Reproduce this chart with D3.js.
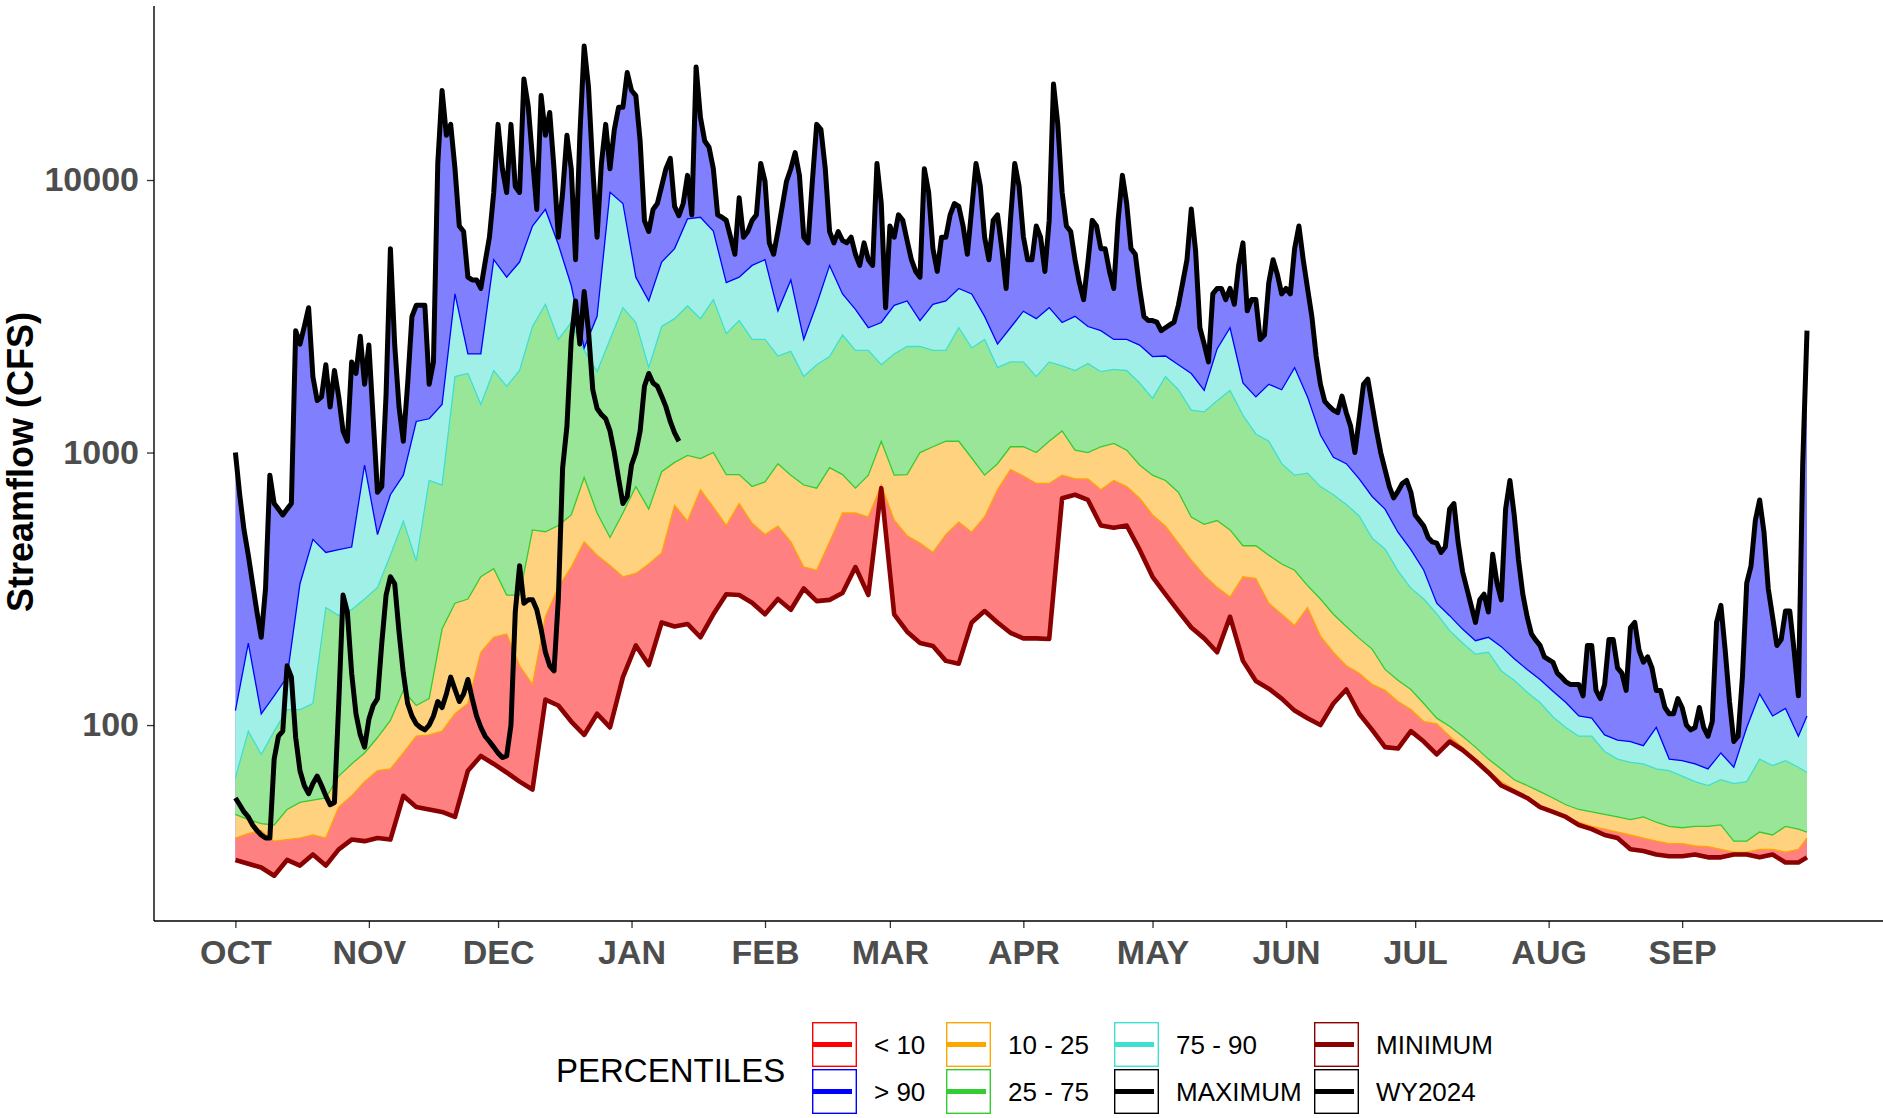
<!DOCTYPE html>
<meta charset="utf-8">
<script src="https://d3js.org/d3.v7.min.js"></script>
<style>
  body { margin: 0; background: #fff; }
  text { font-family: "Liberation Sans", Arial, sans-serif; }
</style>
<div id="chart"></div>
<script>

// day of water year (0 = Oct 1), every third day plus Sep 30
var days = d3.range(0, 364, 3).concat([365]);

// percentile flows (CFS) on the days above
var p90 = [113,200,110,128,150,330,480,430,440,450,900,500,700,826,1300,1330,1500,3820,2300,2300,
  5100,4400,5000,6780,7800,5800,4100,2420,3160,9020,8200,4400,3600,5000,5600,7200,7300,6500,4200,4400,
  4860,5100,3310,4300,2600,3500,4860,3820,3350,2870,3000,3470,3600,3050,3500,3600,4000,3820,3160,2500,
  2870,3300,3100,3400,3000,3160,2900,2800,2600,2600,2480,2250,2260,2100,1950,1690,2400,2870,1800,1600,
  1780,1700,2050,1600,1160,960,910,800,690,620,510,440,370,280,252,225,204,210,194,175,
  160,147,133,121,108,106,92,88,87,84,98,75,74,72,69,79,70,98,130,108,
  115,91,108];
var p75 = [64,95,78,95,114,114,120,270,252,265,290,320,420,560,400,790,760,1900,1950,1500,
  2000,1750,2000,2900,3500,2600,3000,2370,1980,2600,3400,3000,2050,2900,3100,3450,3100,3640,2730,3050,
  2600,2600,2260,2350,1900,2100,2250,2700,2370,2370,2100,2300,2450,2450,2370,2370,2870,2420,2600,2050,
  2150,2150,1900,2150,2080,2000,2120,1980,2020,2000,1800,1580,1900,1700,1430,1410,1550,1690,1370,1170,
  1100,910,826,840,750,700,645,585,485,443,368,318,290,256,222,200,182,185,158,146,
  132,121,107,98,91,91,80,75,73,72,69,68,65,62,60,63,61,62,75,71,
  74,70,67];
var p25 = [47,45,43.5,43,49,52,53,54,65,72,79,90,104,134,118,125,225,280,290,350,
  375,300,300,520,512,540,590,810,600,488,600,750,620,850,920,976,950,1000,830,830,
  750,780,910,826,760,740,880,830,740,826,1100,826,830,1000,1050,1100,1100,955,826,910,
  1050,1050,1000,1100,1200,1020,1000,1050,1080,1020,900,826,790,715,580,545,563,520,455,455,
  420,390,370,325,290,255,230,208,190,160,146,135,120,106,99,91,83,75,69,63,
  60,57,54,51,49,48,47,46,45,46,44,42.5,42,42.5,42.5,43,37.5,37.5,40.5,39.5,
  42.5,41.5,40.5];
var p10 = [38.5,40,41,37.5,38,38.5,39.5,38.5,50,55,62,68,69,79,91,92,95,110,120,185,
  210,216,165,141,250,320,380,470,420,385,350,360,390,428,640,560,730,630,540,650,
  550,500,537,470,380,370,470,600,600,580,760,565,495,465,430,500,555,510,580,730,
  866,820,770,770,826,800,800,730,790,750,680,590,537,465,403,355,320,295,350,345,
  280,255,232,270,212,185,165,155,141,134,122,114,103,101,91,83,75,68,62,58,
  54,50,48,46,44,42.5,41.5,40.5,39.5,38.5,37.5,36.7,36.7,36,35.8,35,34.2,34.2,35,35,
  34.2,35,38.5];
var minFlow = [32,31,30,28,32,30.5,33.5,30.5,35,38,37.5,38.5,38,55,50,49,48,46,68,77,
  72,67,62,58,124,118,103,92,110,98,150,196,166,238,230,235,210,255,302,300,
  281,255,290,265,317,285,288,305,380,300,740,255,220,200,195,172,168,238,262,238,
  218,208,208,207,680,700,670,540,530,540,440,350,302,262,228,208,185,250,172,145,
  136,125,113,106,100,120,135,110,96,83,82,95,87,78,87,81,74,67,60,57,
  54,50,48,46,43,41.5,39.5,38.5,35,34.5,33.5,33,33,33.5,32.7,32.7,33.5,33.5,32.7,33.5,
  31.3,31.3,32.7];

// daily maximum of record (CFS), Oct 1 .. Sep 30
var maxFlow = [1000,700,520,420,330,260,210,317,826,650,620,590,620,650,2800,2500,2900,3400,1900,1550,
  1600,2100,1470,2000,1600,1200,1100,2150,1950,2670,1780,2480,1330,715,750,1640,5600,2480,1470,1100,
  1780,3150,3470,3470,3470,1780,2150,11500,21300,14600,16000,11000,6780,6470,4400,4300,4300,4000,5000,6170,
  9020,16000,11000,9000,16000,9470,9000,23500,18700,12000,7800,20400,14600,17700,11000,6170,9000,14600,11000,5100,
  14600,31000,22000,11000,6170,11500,16000,11000,15300,18500,18500,24800,21300,20400,13900,7100,6470,7800,8200,9500,
  11000,12000,8000,7400,8200,10400,7450,26000,17000,13900,13200,11000,7450,7300,7110,6170,5340,8600,6170,6470,
  7110,7450,11500,9900,5880,5340,6470,8000,9900,11000,12600,10400,6170,5880,9900,16000,15300,11000,6470,5880,
  6470,6000,5880,6170,5340,4860,5880,5100,4860,11500,8200,3400,6780,6170,7450,7110,6000,5100,4620,4400,
  11000,9020,5600,4620,6170,6170,7450,8200,8000,6780,5340,7820,11500,9500,6170,5100,7110,7450,5600,4000,
  7110,11500,9500,6200,5100,5100,6780,6170,4620,7110,22500,16000,9020,6780,6470,5100,4200,3640,5000,7110,
  6780,5600,5600,4620,4000,7110,10400,8200,5600,5340,4000,3160,3050,3050,3010,2800,2870,2940,3010,3470,
  4200,5100,7820,5500,2870,2500,2150,3820,4000,4000,3640,4000,3500,4860,5880,3310,3640,3640,2600,2700,
  4200,5100,4500,3820,4000,3820,5600,6780,5100,4000,3160,2260,1780,1540,1480,1430,1400,1610,1400,1250,
  1000,1330,1780,1860,1500,1210,1000,866,750,682,720,770,790,715,590,563,537,488,470,465,
  430,450,620,650,465,366,317,275,238,288,302,260,423,332,288,620,790,590,403,302,
  250,216,205,196,178,174,170,155,150,144,141,141,141,128,196,196,134,125,141,206,
  206,162,155,134,228,238,188,170,178,162,134,134,116,110,110,125,116,100,96,98,
  116,98,91,103,238,275,188,122,87,91,150,332,384,563,670,512,317,250,196,206,
  262,262,188,128,900,2800];

// WY2024 daily flow (CFS), Oct 1 2023 onward
var wy2024 = [54,51,48,46,43,41,39.5,38.5,38.5,75,91,95,165,150,90,68,60,56,61,65,
  60,55,51,52,120,300,260,155,110,92,83,105,118,125,200,300,350,330,220,155,
  120,108,101,98,96,100,108,122,116,130,150,135,122,130,147,125,108,98,91,87,
  83,79,76,77,100,260,384,280,288,288,265,225,185,165,158,290,880,1250,2600,3600,
  2500,3900,2800,1700,1450,1380,1330,1200,1000,800,650,690,900,1000,1200,1750,1950,1800,1750,1610,
  1470,1300,1180,1100];

var monthLabels = ["OCT","NOV","DEC","JAN","FEB","MAR","APR","MAY","JUN","JUL","AUG","SEP"];
var monthStarts = [0,31,61,92,123,152,183,213,244,274,305,336];
var yTicks = [100, 1000, 10000];

var legendLabels = ["< 10", "> 90", "10 - 25", "25 - 75", "75 - 90", "MAXIMUM", "MINIMUM", "WY2024"];
var legendColors = ["red", "blue", "orange", "limegreen", "turquoise", "black", "darkred", "black"];

var width = 1883, height = 1118;
var panelBottom = 921;

var svg = d3.select("#chart").append("svg")
  .attr("width", width)
  .attr("height", height)
  .style("background", "#fff");

var x = d3.scaleLinear().domain([0, 365]).range([235.4, 1807]);
var y = d3.scaleLog().domain([19.1, 43500]).range([panelBottom, 6]);

// the bands are the colour at 50% on white, so they can be stacked opaque
var blend = function(c) {
  var rgb = d3.rgb(c);
  return d3.rgb((rgb.r + 255) / 2, (rgb.g + 255) / 2, (rgb.b + 255) / 2).formatHex();
};

// > 90 band: everything under the daily maximum, lower bands cover the rest
svg.append("path")
  .attr("d", d3.area()
    .x(function(d, i) { return x(i); })
    .y0(panelBottom)
    .y1(function(d) { return y(d); })(maxFlow))
  .attr("fill", blend("blue"));

var bands = [
  {lo: p75, hi: p90, color: "turquoise"},
  {lo: p25, hi: p75, color: "limegreen"},
  {lo: p10, hi: p25, color: "orange"},
  {lo: minFlow, hi: p10, color: "red"}
];

bands.forEach(function(b) {
  svg.append("path")
    .attr("d", d3.area()
      .x(function(d, i) { return x(days[i]); })
      .y0(function(d, i) { return y(b.lo[i]); })
      .y1(function(d, i) { return y(b.hi[i]); })(days))
    .attr("fill", blend(b.color));
});

// white below the minimum
svg.append("path")
  .attr("d", d3.area()
    .x(function(d, i) { return x(days[i]); })
    .y0(panelBottom + 1)
    .y1(function(d) { return y(d); })(minFlow))
  .attr("fill", "#fff")
  .attr("stroke", "#fff")
  .attr("stroke-width", 2);

var gridLine = d3.line()
  .x(function(d, i) { return x(days[i]); })
  .y(function(d) { return y(d); });

// band outlines
[[p10, "orange"], [p25, "limegreen"], [p75, "turquoise"], [p90, "blue"]].forEach(function(e) {
  svg.append("path").attr("d", gridLine(e[0]))
    .attr("fill", "none").attr("stroke", e[1]).attr("stroke-width", 1.3);
});

var dailyLine = d3.line()
  .x(function(d, i) { return x(i); })
  .y(function(d) { return y(d); });

svg.append("path").attr("d", gridLine(minFlow))
  .attr("fill", "none").attr("stroke", "darkred").attr("stroke-width", 4.6).attr("stroke-linejoin", "round");
svg.append("path").attr("d", dailyLine(maxFlow))
  .attr("fill", "none").attr("stroke", "black").attr("stroke-width", 5).attr("stroke-linejoin", "round");
svg.append("path").attr("d", dailyLine(wy2024))
  .attr("fill", "none").attr("stroke", "black").attr("stroke-width", 5).attr("stroke-linejoin", "round");

// axes
var xAxis = svg.append("g")
  .attr("transform", "translate(0," + panelBottom + ")")
  .call(d3.axisBottom(x).tickValues(monthStarts)
    .tickFormat(function(d, i) { return monthLabels[i]; })
    .tickSize(7).tickPadding(12));
xAxis.select(".domain").remove();
xAxis.selectAll("line").attr("stroke", "#333").attr("stroke-width", 1.3);
xAxis.selectAll("text")
  .attr("fill", "#4d4d4d")
  .style("font-size", "34px")
  .style("font-weight", "bold")
  .style("font-family", "'Liberation Sans', Arial, sans-serif");

var yAxis = svg.append("g")
  .attr("transform", "translate(154,0)")
  .call(d3.axisLeft(y).tickValues(yTicks).tickFormat(d3.format("d")).tickSize(7).tickPadding(8));
yAxis.select(".domain").remove();
yAxis.selectAll("line").attr("stroke", "#333").attr("stroke-width", 1.3);
yAxis.selectAll("text")
  .attr("fill", "#4d4d4d")
  .style("font-size", "34px")
  .style("font-weight", "bold")
  .style("font-family", "'Liberation Sans', Arial, sans-serif");

svg.append("line").attr("x1", 154).attr("x2", 1883).attr("y1", panelBottom).attr("y2", panelBottom)
  .attr("stroke", "black").attr("stroke-width", 1.4);
svg.append("line").attr("x1", 154).attr("x2", 154).attr("y1", 6).attr("y2", panelBottom)
  .attr("stroke", "black").attr("stroke-width", 1.4);

svg.append("text")
  .attr("transform", "translate(33,462) rotate(-90)")
  .attr("text-anchor", "middle")
  .style("font-size", "36px")
  .style("font-weight", "bold")
  .text("Streamflow (CFS)");

// legend
var legend = svg.append("g");
legend.append("text")
  .attr("x", 556).attr("y", 1070).attr("dy", "0.36em")
  .style("font-size", "33px")
  .text("PERCENTILES");

var colX = [812, 946, 1114, 1314];
var rowY = [1022, 1069];
var keySize = 45;

legendLabels.forEach(function(lab, i) {
  var cx = colX[Math.floor(i / 2)], cy = rowY[i % 2];
  var g = legend.append("g").attr("transform", "translate(" + cx + "," + cy + ")");
  g.append("rect")
    .attr("x", 0.7).attr("y", 0.7)
    .attr("width", keySize - 1.4).attr("height", keySize - 1.4)
    .attr("fill", "white").attr("stroke", legendColors[i]).attr("stroke-width", 1.4);
  g.append("line")
    .attr("x1", 1).attr("x2", keySize - 5)
    .attr("y1", keySize / 2).attr("y2", keySize / 2)
    .attr("stroke", legendColors[i]).attr("stroke-width", 5);
  g.append("text")
    .attr("x", 62).attr("y", keySize / 2).attr("dy", "0.36em")
    .style("font-size", "26px")
    .text(lab);
});

</script>
